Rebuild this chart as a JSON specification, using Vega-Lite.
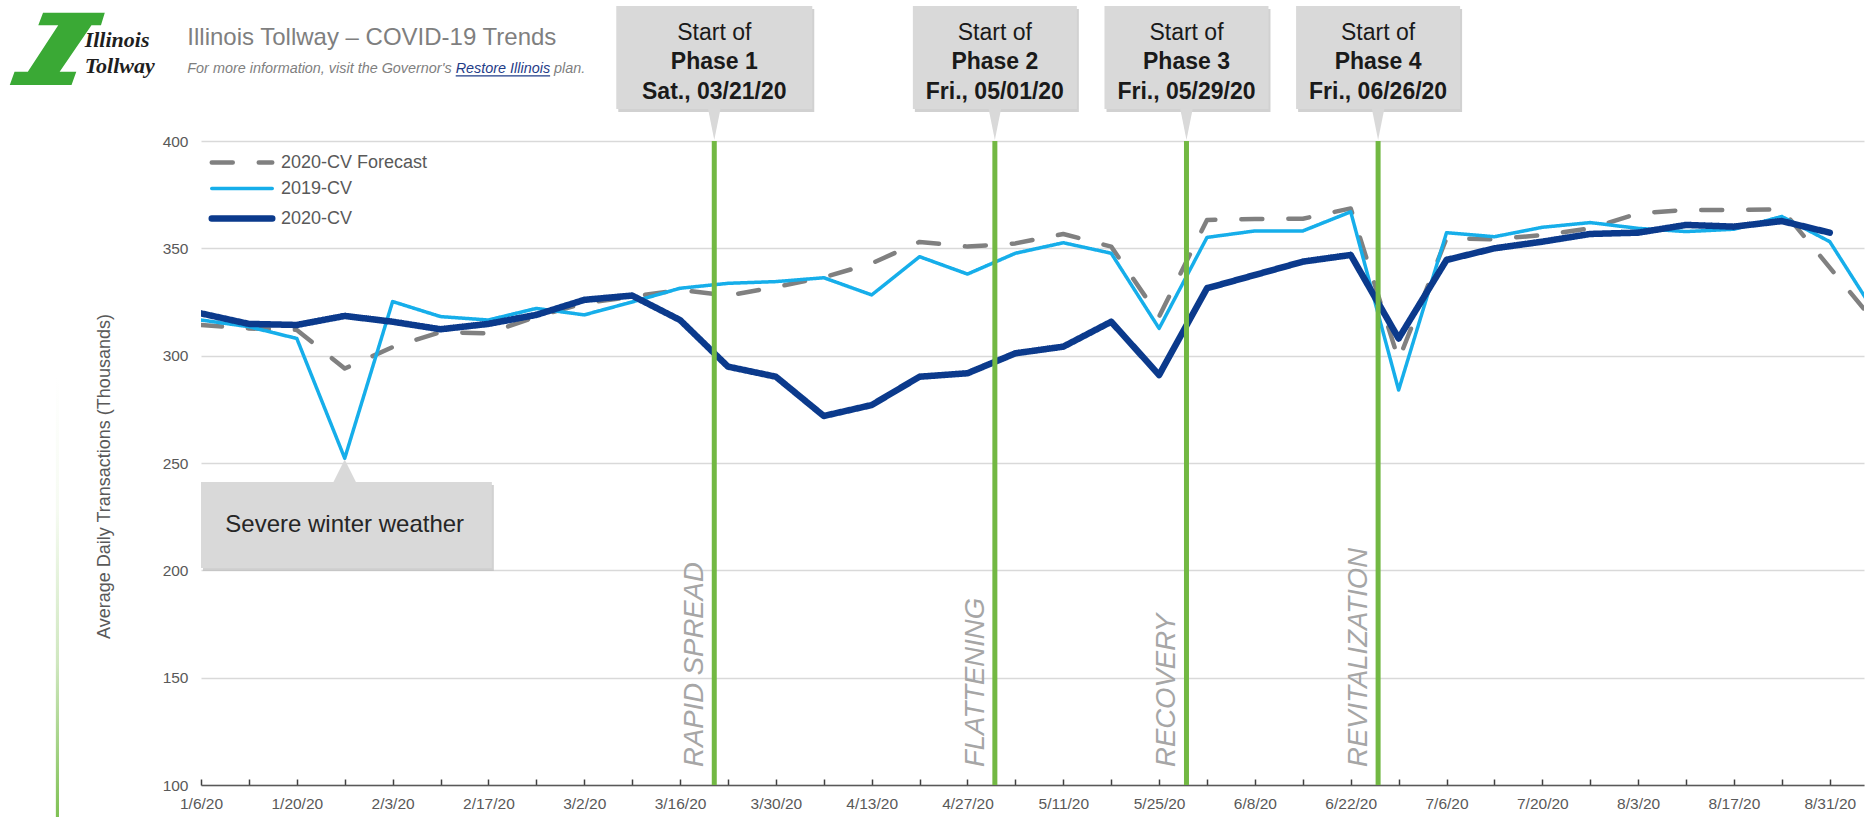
{
  "$schema": "https://vega.github.io/schema/vega-lite/v6.json",
  "width": 1663,
  "height": 644,
  "autosize": {"type": "none"},
  "padding": {"left": 201, "top": 141, "right": 1, "bottom": 32},
  "background": "#ffffff",
  "config": {"view": {"stroke": null}, "font": "Liberation Sans"},
  "datasets": {
    "header": [
      {"brand": ["Illinois", "Tollway"], "title": "Illinois Tollway – COVID-19 Trends", "lead": "For more information, visit the Governor's", "link": "Restore Illinois", "tail": "plan."}
    ],
    "events": [
      {"week": "2020-01-27", "note": "Severe winter weather"}
    ],
    "phases": [
      {"start": "2020-03-21", "phase": "Phase 1", "day": "Sat., 03/21/20", "stage": "RAPID SPREAD"},
      {"start": "2020-05-01", "phase": "Phase 2", "day": "Fri., 05/01/20", "stage": "FLATTENING"},
      {"start": "2020-05-29", "phase": "Phase 3", "day": "Fri., 05/29/20", "stage": "RECOVERY"},
      {"start": "2020-06-26", "phase": "Phase 4", "day": "Fri., 06/26/20", "stage": "REVITALIZATION"}
    ],
    "traffic": [
      {"week": "2020-01-06", "series": "2020-CV Forecast", "value": 314.3},
      {"week": "2020-01-13", "series": "2020-CV Forecast", "value": 312.7},
      {"week": "2020-01-20", "series": "2020-CV Forecast", "value": 312.0},
      {"week": "2020-01-27", "series": "2020-CV Forecast", "value": 294.0},
      {"week": "2020-02-03", "series": "2020-CV Forecast", "value": 304.0},
      {"week": "2020-02-10", "series": "2020-CV Forecast", "value": 311.0},
      {"week": "2020-02-17", "series": "2020-CV Forecast", "value": 310.4},
      {"week": "2020-02-24", "series": "2020-CV Forecast", "value": 318.2},
      {"week": "2020-03-02", "series": "2020-CV Forecast", "value": 324.4},
      {"week": "2020-03-09", "series": "2020-CV Forecast", "value": 327.5},
      {"week": "2020-03-16", "series": "2020-CV Forecast", "value": 330.6},
      {"week": "2020-03-23", "series": "2020-CV Forecast", "value": 328.0},
      {"week": "2020-03-30", "series": "2020-CV Forecast", "value": 332.0},
      {"week": "2020-04-06", "series": "2020-CV Forecast", "value": 336.5},
      {"week": "2020-04-13", "series": "2020-CV Forecast", "value": 343.0},
      {"week": "2020-04-20", "series": "2020-CV Forecast", "value": 353.0},
      {"week": "2020-04-27", "series": "2020-CV Forecast", "value": 350.8},
      {"week": "2020-05-04", "series": "2020-CV Forecast", "value": 352.3},
      {"week": "2020-05-11", "series": "2020-CV Forecast", "value": 356.7},
      {"week": "2020-05-18", "series": "2020-CV Forecast", "value": 350.8},
      {"week": "2020-05-25", "series": "2020-CV Forecast", "value": 318.2},
      {"week": "2020-06-01", "series": "2020-CV Forecast", "value": 363.2},
      {"week": "2020-06-08", "series": "2020-CV Forecast", "value": 363.7},
      {"week": "2020-06-15", "series": "2020-CV Forecast", "value": 363.8},
      {"week": "2020-06-22", "series": "2020-CV Forecast", "value": 368.6},
      {"week": "2020-06-29", "series": "2020-CV Forecast", "value": 298.0},
      {"week": "2020-07-06", "series": "2020-CV Forecast", "value": 354.7},
      {"week": "2020-07-13", "series": "2020-CV Forecast", "value": 354.2},
      {"week": "2020-07-20", "series": "2020-CV Forecast", "value": 356.2},
      {"week": "2020-07-27", "series": "2020-CV Forecast", "value": 359.3},
      {"week": "2020-08-03", "series": "2020-CV Forecast", "value": 366.3},
      {"week": "2020-08-10", "series": "2020-CV Forecast", "value": 367.9},
      {"week": "2020-08-17", "series": "2020-CV Forecast", "value": 367.9},
      {"week": "2020-08-24", "series": "2020-CV Forecast", "value": 368.2},
      {"week": "2020-08-31", "series": "2020-CV Forecast", "value": 341.0},
      {"week": "2020-09-07", "series": "2020-CV Forecast", "value": 314.0},
      {"week": "2020-01-06", "series": "2019-CV", "value": 316.6},
      {"week": "2020-01-13", "series": "2019-CV", "value": 313.5},
      {"week": "2020-01-20", "series": "2019-CV", "value": 308.0},
      {"week": "2020-01-27", "series": "2019-CV", "value": 252.2},
      {"week": "2020-02-03", "series": "2019-CV", "value": 325.2},
      {"week": "2020-02-10", "series": "2019-CV", "value": 318.2},
      {"week": "2020-02-17", "series": "2019-CV", "value": 316.6},
      {"week": "2020-02-24", "series": "2019-CV", "value": 322.0},
      {"week": "2020-03-02", "series": "2019-CV", "value": 319.0},
      {"week": "2020-03-09", "series": "2019-CV", "value": 325.0},
      {"week": "2020-03-16", "series": "2019-CV", "value": 331.4},
      {"week": "2020-03-23", "series": "2019-CV", "value": 333.7},
      {"week": "2020-03-30", "series": "2019-CV", "value": 334.5},
      {"week": "2020-04-06", "series": "2019-CV", "value": 336.3},
      {"week": "2020-04-13", "series": "2019-CV", "value": 328.3},
      {"week": "2020-04-20", "series": "2019-CV", "value": 346.1},
      {"week": "2020-04-27", "series": "2019-CV", "value": 338.0},
      {"week": "2020-05-04", "series": "2019-CV", "value": 347.7},
      {"week": "2020-05-11", "series": "2019-CV", "value": 352.6},
      {"week": "2020-05-18", "series": "2019-CV", "value": 347.7},
      {"week": "2020-05-25", "series": "2019-CV", "value": 312.7},
      {"week": "2020-06-01", "series": "2019-CV", "value": 355.1},
      {"week": "2020-06-08", "series": "2019-CV", "value": 358.1},
      {"week": "2020-06-15", "series": "2019-CV", "value": 358.1},
      {"week": "2020-06-22", "series": "2019-CV", "value": 367.0},
      {"week": "2020-06-29", "series": "2019-CV", "value": 284.0},
      {"week": "2020-07-06", "series": "2019-CV", "value": 357.3},
      {"week": "2020-07-13", "series": "2019-CV", "value": 355.4},
      {"week": "2020-07-20", "series": "2019-CV", "value": 359.8},
      {"week": "2020-07-27", "series": "2019-CV", "value": 362.0},
      {"week": "2020-08-03", "series": "2019-CV", "value": 359.3},
      {"week": "2020-08-10", "series": "2019-CV", "value": 357.8},
      {"week": "2020-08-17", "series": "2019-CV", "value": 358.9},
      {"week": "2020-08-24", "series": "2019-CV", "value": 364.8},
      {"week": "2020-08-31", "series": "2019-CV", "value": 353.1},
      {"week": "2020-09-07", "series": "2019-CV", "value": 318.0},
      {"week": "2020-01-06", "series": "2020-CV", "value": 319.7},
      {"week": "2020-01-13", "series": "2020-CV", "value": 314.8},
      {"week": "2020-01-20", "series": "2020-CV", "value": 314.3},
      {"week": "2020-01-27", "series": "2020-CV", "value": 318.5},
      {"week": "2020-02-03", "series": "2020-CV", "value": 315.8},
      {"week": "2020-02-10", "series": "2020-CV", "value": 312.3},
      {"week": "2020-02-17", "series": "2020-CV", "value": 314.8},
      {"week": "2020-02-24", "series": "2020-CV", "value": 319.0},
      {"week": "2020-03-02", "series": "2020-CV", "value": 326.0},
      {"week": "2020-03-09", "series": "2020-CV", "value": 328.0},
      {"week": "2020-03-16", "series": "2020-CV", "value": 316.6},
      {"week": "2020-03-23", "series": "2020-CV", "value": 294.9},
      {"week": "2020-03-30", "series": "2020-CV", "value": 290.2},
      {"week": "2020-04-06", "series": "2020-CV", "value": 271.9},
      {"week": "2020-04-13", "series": "2020-CV", "value": 277.0},
      {"week": "2020-04-20", "series": "2020-CV", "value": 290.2},
      {"week": "2020-04-27", "series": "2020-CV", "value": 291.8},
      {"week": "2020-05-04", "series": "2020-CV", "value": 301.1},
      {"week": "2020-05-11", "series": "2020-CV", "value": 304.2},
      {"week": "2020-05-18", "series": "2020-CV", "value": 315.8},
      {"week": "2020-05-25", "series": "2020-CV", "value": 291.0},
      {"week": "2020-06-01", "series": "2020-CV", "value": 331.4},
      {"week": "2020-06-08", "series": "2020-CV", "value": 337.6},
      {"week": "2020-06-15", "series": "2020-CV", "value": 343.8},
      {"week": "2020-06-22", "series": "2020-CV", "value": 346.9},
      {"week": "2020-06-29", "series": "2020-CV", "value": 308.0},
      {"week": "2020-07-06", "series": "2020-CV", "value": 344.6},
      {"week": "2020-07-13", "series": "2020-CV", "value": 350.0},
      {"week": "2020-07-20", "series": "2020-CV", "value": 353.1},
      {"week": "2020-07-27", "series": "2020-CV", "value": 356.7},
      {"week": "2020-08-03", "series": "2020-CV", "value": 357.3},
      {"week": "2020-08-10", "series": "2020-CV", "value": 360.9},
      {"week": "2020-08-17", "series": "2020-CV", "value": 360.1},
      {"week": "2020-08-24", "series": "2020-CV", "value": 362.7},
      {"week": "2020-08-31", "series": "2020-CV", "value": 357.3}
    ]
  },
  "layer": [
    {
      "data": {"name": "header"},
      "mark": {"type": "rect", "fill": {"gradient": "linear", "x1": 0, "y1": 0, "x2": 0, "y2": 1, "stops": [{"offset": 0, "color": "#ffffff"}, {"offset": 0.3, "color": "#f6fbf2"}, {"offset": 0.65, "color": "#cfe7bf"}, {"offset": 1, "color": "#7fc154"}]}},
      "encoding": {
        "x": {"datum": {"year": 2019, "month": 12, "date": 15, "hours": 19, "utc": true}, "type": "temporal"},
        "x2": {"datum": {"year": 2019, "month": 12, "date": 16, "hours": 6, "utc": true}},
        "y": {"datum": 290, "type": "quantitative"},
        "y2": {"datum": 85}
      }
    },
    {
      "data": {"name": "header"},
      "mark": {"type": "point", "shape": "M-0.30,-0.76L1,-0.76L0.92,-0.50L0.72,-0.50L0.05,0.48L0.40,0.48L0.30,0.76L-1,0.76L-0.90,0.48L-0.62,0.48L0.02,-0.50L-0.40,-0.50Z", "size": 9025, "filled": true, "fill": "#3aa935", "opacity": 1, "strokeWidth": 0},
      "encoding": {
        "x": {"datum": {"year": 2019, "month": 12, "date": 16, "utc": true}, "type": "temporal"},
        "y": {"datum": 442.9, "type": "quantitative"}
      }
    },
    {
      "data": {"name": "header"},
      "mark": {"type": "text", "font": "Liberation Serif", "fontStyle": "italic", "fontWeight": "bold", "fontSize": 22, "lineHeight": 26, "color": "#1e1e1e", "align": "left", "baseline": "alphabetic"},
      "encoding": {
        "x": {"datum": {"year": 2019, "month": 12, "date": 20, "utc": true}, "type": "temporal"},
        "y": {"datum": 443.7, "type": "quantitative"},
        "text": {"field": "brand"}
      }
    },
    {
      "data": {"name": "header"},
      "mark": {"type": "text", "font": "Liberation Sans", "fontSize": 24, "color": "#7f7f7f", "align": "left", "baseline": "alphabetic"},
      "encoding": {
        "x": {"datum": {"year": 2020, "month": 1, "date": 4, "utc": true}, "type": "temporal"},
        "y": {"datum": 444.7, "type": "quantitative"},
        "text": {"field": "title"}
      }
    },
    {
      "data": {"name": "header"},
      "mark": {"type": "text", "font": "Liberation Sans", "fontStyle": "italic", "fontSize": 14.4, "color": "#7f7f7f", "align": "left", "baseline": "alphabetic"},
      "encoding": {
        "x": {"datum": {"year": 2020, "month": 1, "date": 4, "utc": true}, "type": "temporal"},
        "y": {"datum": 431.7, "type": "quantitative"},
        "text": {"field": "lead"}
      }
    },
    {
      "data": {"name": "header"},
      "mark": {"type": "text", "font": "Liberation Sans", "fontStyle": "italic", "fontSize": 14.4, "color": "#1f3c88", "align": "left", "baseline": "alphabetic", "dx": 268.4},
      "encoding": {
        "x": {"datum": {"year": 2020, "month": 1, "date": 4, "utc": true}, "type": "temporal"},
        "y": {"datum": 431.7, "type": "quantitative"},
        "text": {"field": "link"}
      }
    },
    {
      "data": {"name": "header"},
      "mark": {"type": "text", "font": "Liberation Sans", "fontStyle": "italic", "fontSize": 14.4, "color": "#7f7f7f", "align": "left", "baseline": "alphabetic", "dx": 366.8},
      "encoding": {
        "x": {"datum": {"year": 2020, "month": 1, "date": 4, "utc": true}, "type": "temporal"},
        "y": {"datum": 431.7, "type": "quantitative"},
        "text": {"field": "tail"}
      }
    },
    {
      "data": {"name": "header"},
      "mark": {"type": "rule", "color": "#1f3c88", "strokeWidth": 1.2, "xOffset": 268.4, "x2Offset": 362.8},
      "encoding": {
        "x": {"datum": {"year": 2020, "month": 1, "date": 4, "utc": true}, "type": "temporal"},
        "x2": {"datum": {"year": 2020, "month": 1, "date": 4, "utc": true}},
        "y": {"datum": 430.3, "type": "quantitative"}
      }
    },
    {
      "data": {"name": "events"},
      "mark": {"type": "rect", "fill": "#bdbdbd", "opacity": 0.7, "xOffset": 2, "x2Offset": 2, "yOffset": 3, "y2Offset": 3},
      "encoding": {
        "x": {"datum": {"year": 2020, "month": 1, "date": 6, "utc": true}, "type": "temporal"},
        "x2": {"datum": {"year": 2020, "month": 2, "date": 17, "hours": 12, "utc": true}},
        "y": {"datum": 241.1, "type": "quantitative"},
        "y2": {"datum": 201.1}
      }
    },
    {
      "data": {"name": "events"},
      "mark": {"type": "rect", "fill": "#d9d9d9"},
      "encoding": {
        "x": {"datum": {"year": 2020, "month": 1, "date": 6, "utc": true}, "type": "temporal"},
        "x2": {"datum": {"year": 2020, "month": 2, "date": 17, "hours": 12, "utc": true}},
        "y": {"datum": 241.1, "type": "quantitative"},
        "y2": {"datum": 201.1}
      }
    },
    {
      "data": {"name": "events"},
      "mark": {"type": "point", "shape": "M0,-1L1,1L-1,1Z", "size": 506, "filled": true, "fill": "#d9d9d9", "opacity": 1, "strokeWidth": 0},
      "encoding": {
        "x": {"field": "week", "type": "temporal"},
        "y": {"datum": 246.4, "type": "quantitative"}
      }
    },
    {
      "data": {"name": "events"},
      "mark": {"type": "text", "font": "Liberation Sans", "fontSize": 24, "color": "#262626", "align": "center", "baseline": "middle"},
      "encoding": {
        "x": {"field": "week", "type": "temporal"},
        "y": {"datum": 221.1, "type": "quantitative"},
        "text": {"field": "note"}
      }
    },
    {
      "data": {"name": "traffic"},
      "mark": {"type": "line", "clip": true, "strokeCap": "round", "strokeJoin": "round"},
      "encoding": {
        "x": {
          "field": "week",
          "type": "temporal",
          "scale": {"type": "utc", "domain": [{"year": 2020, "month": 1, "date": 6, "utc": true}, {"year": 2020, "month": 9, "date": 5, "utc": true}]},
          "axis": {
            "title": null,
            "grid": false,
            "values": [1578268800000, 1578873600000, 1579478400000, 1580083200000, 1580688000000, 1581292800000, 1581897600000, 1582502400000, 1583107200000, 1583712000000, 1584316800000, 1584921600000, 1585526400000, 1586131200000, 1586736000000, 1587340800000, 1587945600000, 1588550400000, 1589155200000, 1589760000000, 1590364800000, 1590969600000, 1591574400000, 1592179200000, 1592784000000, 1593388800000, 1593993600000, 1594598400000, 1595203200000, 1595808000000, 1596412800000, 1597017600000, 1597622400000, 1598227200000, 1598832000000],
            "labelExpr": "(round((datum.value - 1578268800000) / 604800000) % 2 === 0) ? utcFormat(datum.value, '%-m/%-d/%y') : ''",
            "labelFont": "Liberation Sans",
            "labelFontSize": 15.5,
            "labelColor": "#595959",
            "labelOverlap": false,
            "labelFlush": false,
            "labelPadding": 17,
            "tickSize": -6,
            "tickColor": "#404040",
            "tickWidth": 1.5,
            "domainColor": "#595959",
            "domainWidth": 1.5
          }
        },
        "y": {
          "field": "value",
          "type": "quantitative",
          "scale": {"domain": [100, 400], "nice": false, "zero": false},
          "axis": {
            "title": "Average Daily Transactions (Thousands)",
            "titleFont": "Liberation Sans",
            "titleFontSize": 18,
            "titleFontWeight": "normal",
            "titleColor": "#595959",
            "titlePadding": 49,
            "titleY": 335,
            "values": [100, 150, 200, 250, 300, 350, 400],
            "grid": true,
            "gridColor": "#d9d9d9",
            "gridWidth": 1.3,
            "domain": false,
            "ticks": false,
            "labelFont": "Liberation Sans",
            "labelFontSize": 15.5,
            "labelColor": "#595959",
            "labelPadding": 13
          }
        },
        "color": {
          "field": "series",
          "type": "nominal",
          "scale": {"domain": ["2020-CV Forecast", "2019-CV", "2020-CV"], "range": ["#808080", "#16aeea", "#0b3a8c"]},
          "legend": {
            "orient": "none", "legendX": 32, "legendY": 12.5, "title": null, "direction": "vertical",
            "symbolType": "M-2.75,0H2.75", "symbolSize": 484, "symbolStrokeWidth": 4.5,
            "labelOffset": 30, "labelFontSize": 18, "labelColor": "#595959", "labelFont": "Liberation Sans",
            "rowPadding": 8, "padding": 0,
            "encode": {"symbols": {"update": {"strokeWidth": {"signal": "datum.value === '2020-CV' ? 6.5 : datum.value === '2019-CV' ? 3.5 : 4.5"}, "strokeCap": {"value": "round"}}}}
          }
        },
        "strokeDash": {
          "field": "series",
          "type": "nominal",
          "scale": {"domain": ["2020-CV Forecast", "2019-CV", "2020-CV"], "range": [[21, 26], [1, 0], [1, 0]]},
          "legend": {
            "orient": "none", "legendX": 32, "legendY": 12.5, "title": null, "direction": "vertical",
            "symbolType": "M-2.75,0H2.75", "symbolSize": 484, "symbolStrokeWidth": 4.5,
            "labelOffset": 30, "labelFontSize": 18, "labelColor": "#595959", "labelFont": "Liberation Sans",
            "rowPadding": 8, "padding": 0,
            "encode": {"symbols": {"update": {"strokeWidth": {"signal": "datum.value === '2020-CV' ? 6.5 : datum.value === '2019-CV' ? 3.5 : 4.5"}, "strokeCap": {"value": "round"}}}}
          }
        },
        "strokeWidth": {
          "condition": [
            {"test": "datum.series === '2020-CV'", "value": 6.5},
            {"test": "datum.series === '2019-CV'", "value": 3.5}
          ],
          "value": 4.5
        }
      }
    },
    {
      "data": {"name": "phases"},
      "mark": {"type": "rule", "color": "#72b843", "strokeWidth": 5},
      "encoding": {
        "x": {"field": "start", "type": "temporal"},
        "y": {"datum": 400, "type": "quantitative"},
        "y2": {"datum": 100}
      }
    },
    {
      "data": {"name": "phases"},
      "mark": {"type": "text", "font": "Liberation Sans", "fontStyle": "italic", "fontSize": 27.5, "color": "#a6a6a6", "angle": 270, "align": "left", "baseline": "alphabetic", "xOffset": -11},
      "encoding": {
        "x": {"field": "start", "type": "temporal"},
        "y": {"datum": 108.4, "type": "quantitative"},
        "text": {"field": "stage"}
      }
    },
    {
      "data": {"name": "phases"},
      "transform": [{"filter": "datum.phase === 'Phase 1'"}],
      "mark": {"type": "rect", "fill": "#bdbdbd", "opacity": 0.7, "xOffset": -96, "x2Offset": 100, "yOffset": 3, "y2Offset": 3},
      "encoding": {
        "x": {"field": "start", "type": "temporal"},
        "x2": {"field": "start"},
        "y": {"datum": 462.9, "type": "quantitative"},
        "y2": {"datum": 414.9}
      }
    },
    {
      "data": {"name": "phases"},
      "transform": [{"filter": "datum.phase === 'Phase 1'"}],
      "mark": {"type": "rect", "fill": "#d9d9d9", "xOffset": -98, "x2Offset": 98},
      "encoding": {
        "x": {"field": "start", "type": "temporal"},
        "x2": {"field": "start"},
        "y": {"datum": 462.9, "type": "quantitative"},
        "y2": {"datum": 414.9}
      }
    },
    {
      "data": {"name": "phases"},
      "transform": [{"filter": "datum.phase !== 'Phase 1'"}],
      "mark": {"type": "rect", "fill": "#bdbdbd", "opacity": 0.7, "xOffset": -80, "x2Offset": 84, "yOffset": 3, "y2Offset": 3},
      "encoding": {
        "x": {"field": "start", "type": "temporal"},
        "x2": {"field": "start"},
        "y": {"datum": 462.9, "type": "quantitative"},
        "y2": {"datum": 414.9}
      }
    },
    {
      "data": {"name": "phases"},
      "transform": [{"filter": "datum.phase !== 'Phase 1'"}],
      "mark": {"type": "rect", "fill": "#d9d9d9", "xOffset": -82, "x2Offset": 82},
      "encoding": {
        "x": {"field": "start", "type": "temporal"},
        "x2": {"field": "start"},
        "y": {"datum": 462.9, "type": "quantitative"},
        "y2": {"datum": 414.9}
      }
    },
    {
      "data": {"name": "phases"},
      "mark": {"type": "point", "shape": "M-0.4,-1L0.4,-1L0,1Z", "size": 1024, "filled": true, "fill": "#d9d9d9", "opacity": 1, "strokeWidth": 0},
      "encoding": {
        "x": {"field": "start", "type": "temporal"},
        "y": {"datum": 407.9, "type": "quantitative"}
      }
    },
    {
      "data": {"name": "phases"},
      "mark": {"type": "text", "text": "Start of", "font": "Liberation Sans", "fontSize": 23, "color": "#1a1a1a", "align": "center", "baseline": "middle"},
      "encoding": {
        "x": {"field": "start", "type": "temporal"},
        "y": {"datum": 450.3, "type": "quantitative"}
      }
    },
    {
      "data": {"name": "phases"},
      "mark": {"type": "text", "font": "Liberation Sans", "fontWeight": "bold", "fontSize": 23, "color": "#1a1a1a", "align": "center", "baseline": "middle"},
      "encoding": {
        "x": {"field": "start", "type": "temporal"},
        "y": {"datum": 436.8, "type": "quantitative"},
        "text": {"field": "phase"}
      }
    },
    {
      "data": {"name": "phases"},
      "mark": {"type": "text", "font": "Liberation Sans", "fontWeight": "bold", "fontSize": 23, "color": "#1a1a1a", "align": "center", "baseline": "middle"},
      "encoding": {
        "x": {"field": "start", "type": "temporal"},
        "y": {"datum": 422.8, "type": "quantitative"},
        "text": {"field": "day"}
      }
    }
  ]
}
